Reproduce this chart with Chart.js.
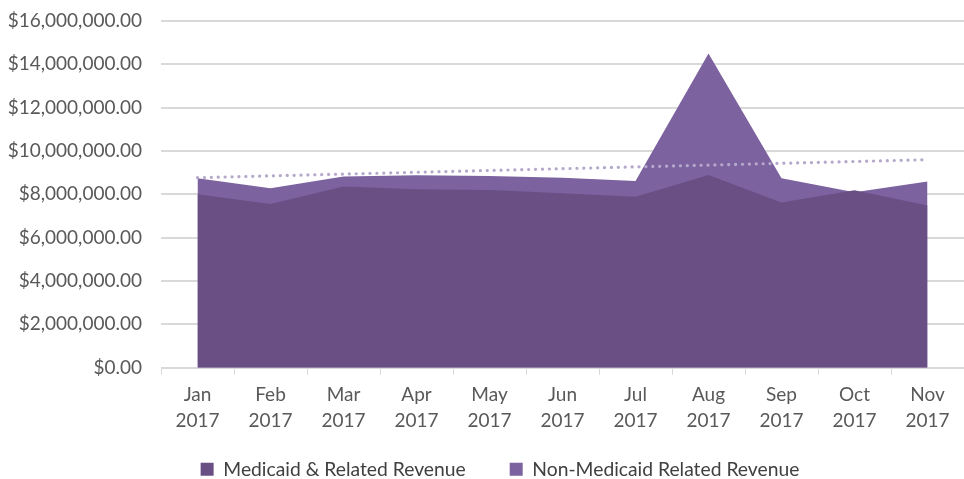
<!DOCTYPE html>
<html><head><meta charset="utf-8">
<script src="https://cdn.jsdelivr.net/npm/chart.js@4/dist/chart.umd.min.js"></script>
<style>html,body{margin:0;padding:0;background:#fff}#w{width:964px;height:479px}</style>
</head><body><div id="w"><canvas id="c" width="964" height="479"></canvas></div>
<script>
const months = ["Jan","Feb","Mar","Apr","May","Jun","Jul","Aug","Sep","Oct","Nov"];
const years = ["2017","2017","2017","2017","2017","2017","2017","2017","2017","2017","2017"];
const medicaid = [8000000,7560000,8360000,8230000,8200000,8050000,7890000,8890000,7620000,8190000,7480000];
const nonMedicaid = [8740000,8280000,8820000,8880000,8850000,8770000,8620000,14500000,8740000,8100000,8590000];
const trend = [8770000,null,null,null,null,null,null,null,null,null,9600000];
const yTicks = [0,2000000,4000000,6000000,8000000,10000000,12000000,14000000,16000000];

const labels = months.map((m,i)=>[m, years[i]]);
const font = {family: "Lato, 'Open Sans', sans-serif", size: 19};
const unclip = {id: 'unclip', beforeDraw(chart){ chart.scales.x.bottom = chart.height; chart.scales.y.left = 0; }};
new Chart(document.getElementById('c'), {
  type: 'line',
  data: {
    labels: labels,
    datasets: [
      {label: 'Medicaid & Related Revenue', data: medicaid, backgroundColor: '#6a4f85', borderWidth: 0, pointRadius: 0, fill: 'origin', tension: 0},
      {label: 'Non-Medicaid Related Revenue', data: nonMedicaid, backgroundColor: '#7d62a0', borderWidth: 0, pointRadius: 0, fill: 'origin', tension: 0},
      {label: 'trend', data: trend, spanGaps: true, borderColor: '#b5a8cb', borderWidth: 3.2, borderDash: [0.1, 6.8], borderCapStyle: 'round', pointRadius: 0, fill: false, order: -1}
    ]
  },
  plugins: [unclip],
  options: {
    responsive: false, animation: false,
    layout: {padding: {top: 21, right: 0, left: 36, bottom: -10}},
    plugins: {
      tooltip: {enabled: false},
      legend: {position: 'bottom', labels: {font: {family: font.family, size: 19.3}, color: '#404040', boxWidth: 13, boxHeight: 13, padding: 44,
        filter: (it)=> it.text !== 'trend'}}
    },
    scales: {
      x: {offset: true,
        afterFit: (s)=>{ s.height = 48; },
        grid: {drawOnChartArea: false, color: '#d9d9d9', tickLength: 7, offset: true},
        border: {color: '#d9d9d9'},
        ticks: {font: {family: font.family, size: 19, lineHeight: 1.37}, color: '#595959', maxRotation: 0, padding: 7}},
      y: {min: 0, max: 16000000,
        afterBuildTicks: (s)=>{ s.ticks = yTicks.map(v=>({value:v})); },
        afterFit: (s)=>{ s.width = 125; s.paddingTop = 0; s.paddingBottom = 0; },
        grid: {color: '#d9d9d9', lineWidth: 2, drawTicks: false},
        border: {display: false},
        ticks: {font: font, color: '#595959', padding: 19,
          callback: (v)=> '$' + Number(v).toLocaleString('en-US',{minimumFractionDigits:2, maximumFractionDigits:2})}}
    }
  }
});
</script></body></html>
